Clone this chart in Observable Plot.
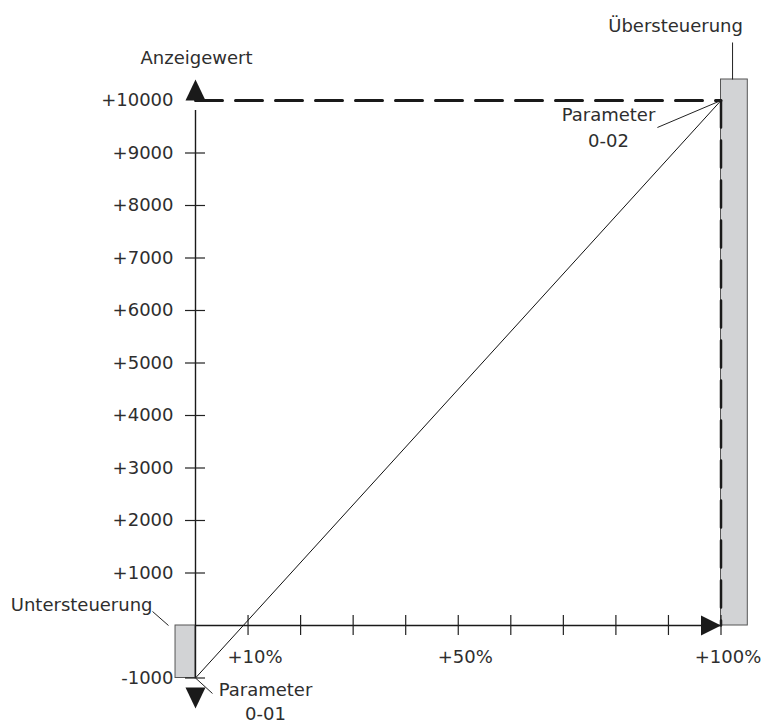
<!DOCTYPE html>
<html>
<head>
<meta charset="utf-8">
<script src="https://cdn.jsdelivr.net/npm/d3@7"></script>
<script src="https://cdn.jsdelivr.net/npm/@observablehq/plot@0.6"></script>
<style>
  html, body { margin: 0; padding: 0; background: #fff; }
  #chart svg { display: block; }
</style>
</head>
<body>
<div id="chart"></div>
<script>
// ---- data ----
const xTickValues = [10, 20, 30, 40, 50, 60, 70, 80, 90, 100];
const xLabelValues = [10, 50, 100];
const xLabels = ["+10%", "+50%", "+100%"];
const yTickValues = [-1000, 1000, 2000, 3000, 4000, 5000, 6000, 7000, 8000, 9000];
const yLabelValues = [-1000, 1000, 2000, 3000, 4000, 5000, 6000, 7000, 8000, 9000, 10000];
const yLabels = ["-1000", "+1000", "+2000", "+3000", "+4000", "+5000", "+6000", "+7000", "+8000", "+9000", "+10000"];
const characteristicPct = [0, 100];
const characteristicValue = [-1000, 10000];   // Parameter 0-01, Parameter 0-02
const underRangePct = [-3.8, 0];
const underRangeValue = [-1000, 0];
const overRangePct = [100, 105.1];
const overRangeValue = [0, 10400];
const yAxisTitle = "Anzeigewert";
const overLabel = "Übersteuerung";
const underLabel = "Untersteuerung";
const param1Label = "Parameter\n0-01";
const param2Label = "Parameter\n0-02";

// ---- derived tables ----
const characteristic = characteristicPct.map((p, i) => ({pct: p, value: characteristicValue[i]}));
const bars = [
  {x1: underRangePct[0], x2: underRangePct[1], y1: underRangeValue[0], y2: underRangeValue[1]},
  {x1: overRangePct[0], x2: overRangePct[1], y1: overRangeValue[0], y2: overRangeValue[1]}
];
const topValue = characteristicValue[1];
const dashH = [{pct: 0, value: topValue}, {pct: 100, value: topValue}];
const dashV = [{pct: 100, value: topValue}, {pct: 100, value: 0}];

// leader lines (annotation geometry in data units)
const leaders = [
  {x1: 102.2, y1: overRangeValue[1], x2: 102.2, y2: 11105},
  {x1: 87.9, y1: 9486, x2: 100, y2: 10000},
  {x1: -8.18, y1: 267, x2: -5.14, y2: 0},
  {x1: 0, y1: -1000, x2: 3.23, y2: -1295}
];

// custom arrowhead symbols
const W = 10, H = 21;
const arrowUp = {draw(c) { c.moveTo(-W, 0); c.lineTo(W, 0); c.lineTo(0, -H); c.closePath(); }};
const arrowDown = {draw(c) { c.moveTo(-W, 0); c.lineTo(W, 0); c.lineTo(0, H); c.closePath(); }};
const arrowRight = {draw(c) { c.moveTo(0, 0); c.lineTo(-H + 1, -W); c.lineTo(-H + 1, W); c.closePath(); }};

const ink = "#1a1a1a";
const textInk = "#2e2e2e";

const chart = Plot.plot({
  width: 767,
  height: 724,
  marginLeft: 195,
  marginRight: 46.5,
  marginTop: 100,
  marginBottom: 46.5,
  x: {domain: [0, 100], axis: null},
  y: {domain: [-1000, 10000], axis: null},
  style: {fontFamily: "'DejaVu Sans', sans-serif", fontSize: "18px", background: "#fff", overflow: "visible"},
  marks: [
    // range bars
    Plot.rect(bars, {x1: "x1", x2: "x2", y1: "y1", y2: "y2", fill: "#d2d3d5", stroke: "#555", strokeWidth: 1}),
    // dashed reference lines
    Plot.line(dashH, {x: "pct", y: "value", stroke: ink, strokeWidth: 3, strokeDasharray: "27,13"}),
    Plot.line(dashV, {x: "pct", y: "value", stroke: ink, strokeWidth: 2.5, strokeDasharray: "27,13"}),
    // axes lines
    Plot.ruleX([0], {y1: -1000, y2: 10000, stroke: ink, strokeWidth: 1.4, insetBottom: -10}),
    Plot.ruleY([0], {x1: 0, x2: 100, stroke: ink, strokeWidth: 1.4}),
    // ticks crossing axes
    Plot.ruleY(yTickValues, {x1: 0, x2: 0, insetLeft: -10, insetRight: -10, stroke: "#222", strokeWidth: 1.2}),
    Plot.ruleX(xTickValues, {y1: 0, y2: 0, insetTop: -10, insetBottom: -10, stroke: "#222", strokeWidth: 1.2}),
    // characteristic line
    Plot.line(characteristic, {x: "pct", y: "value", stroke: "#111", strokeWidth: 1}),
    // arrowheads
    Plot.dot([{pct: 0, value: 10000}], {x: "pct", y: "value", symbol: arrowUp, r: 10, fill: ink, stroke: "none"}),
    Plot.dot([{pct: 100, value: 0}], {x: "pct", y: "value", symbol: arrowRight, r: 10, fill: ink, stroke: "none"}),
    Plot.dot([{pct: 0, value: -1000}], {x: "pct", y: "value", symbol: arrowDown, r: 10, dy: 9.5, fill: ink, stroke: "none"}),
    // leader lines
    Plot.link(leaders, {x1: "x1", y1: "y1", x2: "x2", y2: "y2", stroke: "#222", strokeWidth: 1}),
    // tick labels
    Plot.text(yLabelValues, {x: 0, y: d => d, text: (d, i) => yLabels[i], textAnchor: "end", dx: -22, fontSize: 18, fill: textInk}),
    Plot.text(xLabelValues, {x: d => d, y: 0, text: (d, i) => xLabels[i], textAnchor: "middle", lineAnchor: "bottom", dx: 7, dy: 37, fontSize: 18, fill: textInk}),
    // annotations
    Plot.text([yAxisTitle], {x: 0, y: 10000, text: d => d, textAnchor: "middle", lineAnchor: "bottom", dx: 1, dy: -37, fontSize: 18, fill: textInk}),
    Plot.text([overLabel], {x: 102.2, y: 11105, text: d => d, textAnchor: "middle", lineAnchor: "bottom", dx: -57, dy: -10, fontSize: 18, fill: textInk}),
    Plot.text([param2Label], {x: 100, y: 10000, text: d => d, textAnchor: "middle", lineAnchor: "bottom", lineHeight: 1.39, dx: -112.5, dy: 46, fontSize: 18, fill: textInk}),
    Plot.text([underLabel], {x: -8.18, y: 267, text: d => d, textAnchor: "end", lineAnchor: "bottom", dx: 0, dy: 0, fontSize: 18, fill: textInk}),
    Plot.text([param1Label], {x: 0, y: -1000, text: d => d, textAnchor: "middle", lineAnchor: "bottom", lineHeight: 1.33, dx: 70, dy: 41.5, fontSize: 18, fill: textInk})
  ]
});
document.getElementById("chart").appendChild(chart);
</script>
</body>
</html>
